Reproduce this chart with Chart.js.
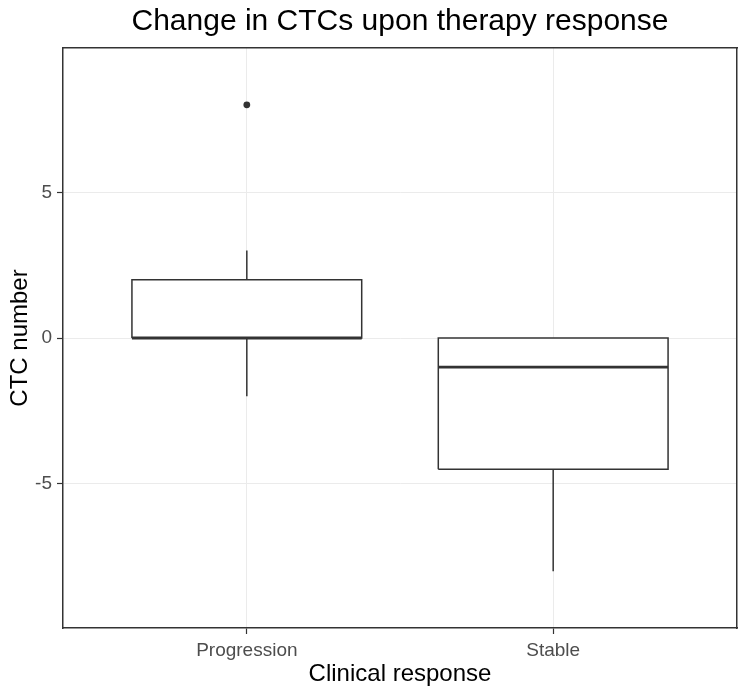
<!DOCTYPE html>
<html>
<head>
<meta charset="utf-8">
<script src="https://cdn.jsdelivr.net/npm/chart.js@4/dist/chart.umd.min.js"></script>
<style>
  html, body { margin: 0; padding: 0; background: #fff; }
  canvas { display: block; }
</style>
</head>
<body>
<canvas id="grafico" width="748" height="693"></canvas>
<script>
// dados
const categorias = ['Progression', 'Stable'];
const bigodeInferior = [-2, -8];
const quartil1 = [0, -4.5];
const mediana = [0, -1];
const quartil3 = [2, 0];
const bigodeSuperior = [3, 0];
const outliers = [[8], []];
const ticksY = [-5, 0, 5];

const MEIA_LARGURA = 0.375;
const COR = '#333333';
const FONTE = "'Liberation Sans', Arial, sans-serif";

const datasets = [];
categorias.forEach((cat, i) => {
  const c = i + 1;
  // bigode (linha vertical inteira, a caixa cobre o meio)
  datasets.push({
    data: [{ x: c, y: bigodeInferior[i] }, { x: c, y: bigodeSuperior[i] }],
    showLine: true, borderColor: COR, borderWidth: 1.5, pointRadius: 0, order: 40
  });
  // preenchimento branco da caixa
  datasets.push({
    data: [{ x: c - MEIA_LARGURA, y: quartil3[i] }, { x: c + MEIA_LARGURA, y: quartil3[i] }],
    showLine: true, borderColor: 'rgba(0,0,0,0)', borderWidth: 0, pointRadius: 0,
    fill: { value: quartil1[i] }, backgroundColor: '#ffffff', order: 30
  });
  // contorno da caixa
  datasets.push({
    data: [
      { x: c - MEIA_LARGURA, y: quartil1[i] },
      { x: c - MEIA_LARGURA, y: quartil3[i] },
      { x: c + MEIA_LARGURA, y: quartil3[i] },
      { x: c + MEIA_LARGURA, y: quartil1[i] },
      { x: c - MEIA_LARGURA, y: quartil1[i] }
    ],
    showLine: true, borderColor: COR, borderWidth: 1.5, pointRadius: 0, order: 20
  });
  // mediana
  datasets.push({
    data: [{ x: c - MEIA_LARGURA, y: mediana[i] }, { x: c + MEIA_LARGURA, y: mediana[i] }],
    showLine: true, borderColor: COR, borderWidth: 2.8, pointRadius: 0, order: 10
  });
  // outliers
  datasets.push({
    data: outliers[i].map(v => ({ x: c, y: v })),
    pointRadius: 3.4, pointBackgroundColor: COR, pointBorderWidth: 0, order: 0
  });
});

new Chart(document.getElementById('grafico'), {
  type: 'scatter',
  data: { datasets: datasets },
  options: {
    responsive: false,
    animation: false,
    events: [],
    layout: { padding: 0 },
    plugins: { legend: { display: false }, tooltip: { enabled: false } },
    scales: {
      x: {
        type: 'linear', position: 'bottom', min: 0.4, max: 2.6,
        afterBuildTicks: s => { s.ticks = categorias.map((c, i) => ({ value: i + 1 })); },
        afterFit: s => { s.height = 65; },
        ticks: {
          callback: v => categorias[v - 1],
          color: '#4D4D4D', font: { family: FONTE, size: 19 }, padding: 5, maxRotation: 0
        },
        grid: { color: '#EBEBEB', lineWidth: 1, tickLength: 6, tickColor: COR, tickWidth: 1.2 },
        border: { display: true, color: COR, width: 1.5 },
        title: { display: true, text: 'Clinical response', color: '#000', font: { family: FONTE, size: 24 }, padding: { top: 0, bottom: 4 } }
      },
      y: {
        type: 'linear', position: 'left', min: -9.95, max: 9.95,
        afterBuildTicks: s => { s.ticks = ticksY.map(v => ({ value: v })); },
        afterFit: s => { s.width = 63; },
        ticks: { color: '#4D4D4D', font: { family: FONTE, size: 19 }, padding: 5 },
        grid: { color: '#EBEBEB', lineWidth: 1, tickLength: 6, tickColor: COR, tickWidth: 1.2 },
        border: { display: true, color: COR, width: 1.5 },
        title: { display: true, text: 'CTC number', color: '#000', font: { family: FONTE, size: 24 }, padding: { top: 6, bottom: 0 } }
      },
      xTopo: {
        type: 'linear', position: 'top',
        afterFit: s => { s.height = 48; },
        ticks: { display: false },
        grid: { display: false, drawTicks: false },
        border: { display: true, color: COR, width: 1.5 },
        title: { display: true, text: 'Change in CTCs upon therapy response', color: '#000', font: { family: FONTE, size: 30 }, padding: { top: 4, bottom: 0 } }
      },
      yDireita: {
        type: 'linear', position: 'right',
        afterFit: s => { s.width = 11; },
        ticks: { display: false },
        grid: { display: false, drawTicks: false },
        border: { display: true, color: COR, width: 1.5 }
      }
    }
  }
});
</script>
</body>
</html>
